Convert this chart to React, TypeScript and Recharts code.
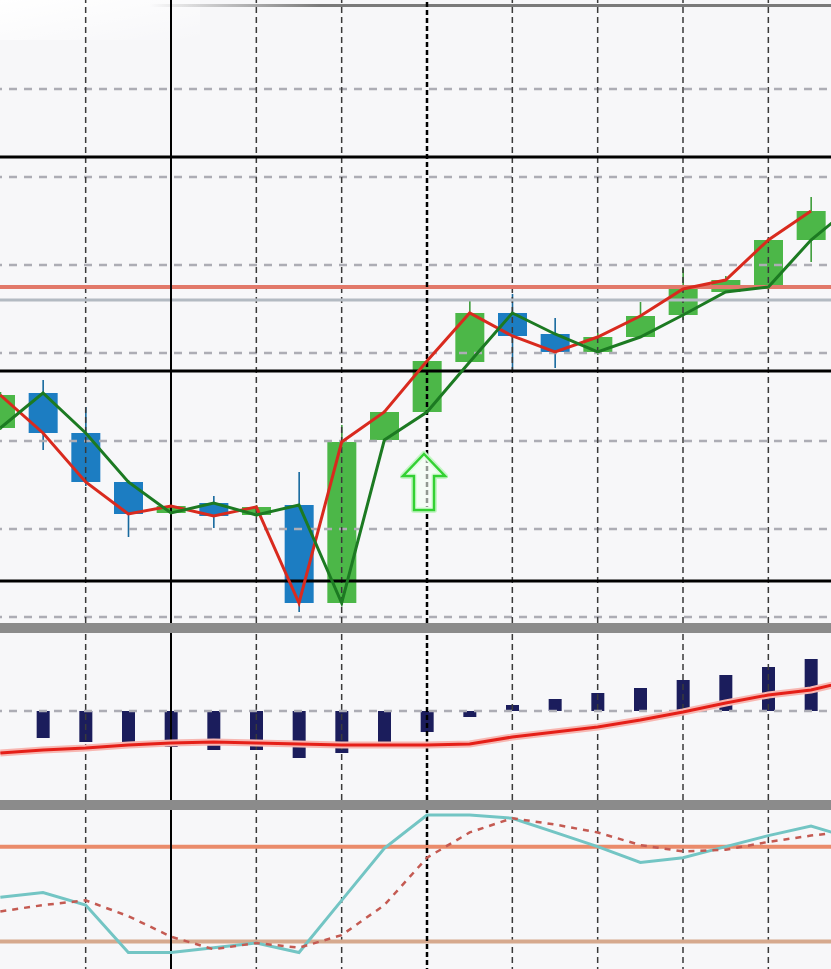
import React from 'react';
import { ComposedChart, Bar, Line, XAxis, YAxis, ReferenceLine, ReferenceDot } from 'recharts';

// ---------- data (price in points) ----------
const candleIndex = [0, 1, 2, 3, 4, 5, 6, 7, 8, 9, 10, 11, 12, 13, 14, 15, 16, 17, 18, 19, 20];
const opens = [277, 312, 272, 223, 192, 202, 190, 200, 102, 265, 293, 343, 392, 371, 353, 368, 390, 413, 418, 465];
const highs = [313, 325, 298, 225, 202, 209, 200, 233, 280, 295, 345, 405, 411, 387, 372, 403, 437, 429, 467, 508];
const lows = [275, 255, 219, 168, 189, 177, 188, 93, 100, 264, 292, 343, 333, 337, 350, 367, 385, 412, 417, 443];
const closes = [310, 272, 223, 191, 199, 189, 198, 102, 263, 293, 344, 392, 369, 353, 368, 389, 416, 425, 465, 494];
const redMA = [310, 272, 223, 191, 199, 189, 198, 102, 263, 293, 344, 392, 369, 353, 368, 389, 416, 425, 465, 494, null];
const greenMA = [277, 312, 272, 223, 192, 202, 190, 200, 102, 265, 293, 343, 392, 371, 353, 368, 390, 413, 418, 465, 500];

const macdHist = [null, -27, -31, -34, -36, -39, -39, -47, -42, -34, -21, -6, 6, 12, 18, 23, 31, 36, 44, 52, null];
const macdSignal = [-42, -39, -37, -34, -32, -31, -32, -33, -34, -34, -34, -33, -26, -21, -16, -9, -1, 8, 16, 21, 31];

const stochMain = [48, 51, 43, 13, 13, 16, 19, 13, 46, 79, 100, 100, 98, 89, 80, 70, 73, 80, 87, 93, 85];
const stochSignal = [39, 43, 46, 36, 23, 15, 19, 16, 24, 43, 73, 89, 98, 94, 89, 81, 77, 78, 83, 87, 90];

const priceGrid = [88, 176, 264, 352, 440, 528, 616];
const blackLevels = [548, 334, 124];
const redLevel = 418;
const grayLevel = 405;
const timeGrid = [2, 6, 8, 12, 14, 16, 18];
const solidVLine = 4;
const signalVLine = 10;
const arrowSignal = { index: 10, value: 223 };
const stochLevels = [80, 20];

// ---------- built tables ----------
const mainData = candleIndex.map((i) => ({
  i,
  open: i < opens.length ? opens[i] : null,
  high: i < highs.length ? highs[i] : null,
  low: i < lows.length ? lows[i] : null,
  close: i < closes.length ? closes[i] : null,
  red: redMA[i],
  green: greenMA[i],
}));
const macdData = candleIndex.map((i) => ({ i, hist: macdHist[i], signal: macdSignal[i] }));
const stochData = candleIndex.map((i) => ({ i, main: stochMain[i], signal: stochSignal[i] }));

// ---------- layout ----------
const SLOT = 256 / 6;
const CHART_W = SLOT * candleIndex.length;
const LEFT = -SLOT / 2;
const BG = '#f7f7f9';
const BLUE = '#1c7dc2';
const GREEN = '#4cb748';

const Candle = (props: any) => {
  const { x, y, width, height, payload } = props;
  if (!payload || payload.open == null) return null;
  const { open, close, high, low } = payload;
  const top = Math.min(y, y + height);
  const h = Math.abs(height);
  const k = h / (high - low);
  const yOf = (v: number) => top + (high - v) * k;
  const up = close >= open;
  const bTop = yOf(Math.max(open, close));
  const bBot = yOf(Math.min(open, close));
  const cx = x + width / 2;
  return (
    <g>
      <line x1={cx} x2={cx} y1={top} y2={top + h} stroke={up ? '#3f9e3c' : '#17699e'} strokeWidth={1.6} />
      <rect x={x} y={bTop} width={width} height={Math.max(bBot - bTop, 2)} fill={up ? GREEN : BLUE} />
    </g>
  );
};

const Arrow = (props: any) => {
  const { cx, cy } = props;
  const x0 = cx - 3;
  const d = `M ${x0} ${cy - 28} L ${x0 + 21} ${cy - 6} L ${x0 + 10} ${cy - 6} L ${x0 + 10} ${cy + 28} L ${x0 - 10} ${cy + 28} L ${x0 - 10} ${cy - 6} L ${x0 - 21} ${cy - 6} Z`;
  return (
    <g>
      <path d={d} fill="none" stroke="#c6f5c6" strokeWidth={6} strokeLinejoin="round" />
      <path d={d} fill="#f4fff4" fillOpacity={0.6} stroke="#33d133" strokeWidth={2.5} strokeLinejoin="miter" />
    </g>
  );
};

const vLines = () =>
  timeGrid.map((t) => (
    <ReferenceLine key={'v' + t} x={t} stroke="#3a3a3a" strokeWidth={1.5} strokeDasharray="6 4" />
  ));

const topLines = () => [
  <ReferenceLine key="sig" x={signalVLine} stroke="#000" strokeWidth={2.5} strokeDasharray="5 3" />,
  <ReferenceLine key="solid" x={solidVLine} stroke="#000" strokeWidth={2} />,
];

export default function App() {
  return (
    <div style={{ position: 'relative', width: 831, height: 969, overflow: 'hidden', background: BG }}>
      <style>{`html,body{margin:0;padding:0;overflow:hidden;}`}</style>
      {/* top window edge */}
      <div style={{ position: 'absolute', top: 0, left: 0, width: 200, height: 40, background: 'linear-gradient(to bottom right, #ffffff, rgba(255,255,255,0))' }} />
      <div style={{ position: 'absolute', top: 4, left: 150, width: 681, height: 3, background: 'linear-gradient(to right, rgba(130,130,130,0), #7a7a7a 25%, #7a7a7a)' }} />

      {/* main price panel */}
      <div style={{ position: 'absolute', top: 0, left: LEFT }}>
        <ComposedChart width={CHART_W} height={623} data={mainData} margin={{ top: 0, right: 0, bottom: 0, left: 0 }}>
          <XAxis dataKey="i" type="category" scale="band" hide />
          <YAxis type="number" domain={[82, 705]} allowDataOverflow hide />
          {priceGrid.map((p) => (
            <ReferenceLine key={'h' + p} y={p} stroke="#adadb5" strokeWidth={2.5} strokeDasharray="8 7" />
          ))}
          {vLines()}
          <ReferenceLine y={redLevel} stroke="#e2796a" strokeWidth={4} />
          <ReferenceLine y={grayLevel} stroke="#b3bac2" strokeWidth={3} />
          {blackLevels.map((p) => (
            <ReferenceLine key={'b' + p} y={p} stroke="#000" strokeWidth={3} />
          ))}
          {topLines()}
          <Bar dataKey={(d: any) => (d.open == null ? null : [d.low, d.high])} barSize={29} shape={<Candle />} isAnimationActive={false} />
          <Line dataKey="red" stroke="#d92a1e" strokeWidth={3} dot={false} activeDot={false} isAnimationActive={false} connectNulls={false} />
          <Line dataKey="green" stroke="#1c7a22" strokeWidth={3} dot={false} activeDot={false} isAnimationActive={false} />
          <ReferenceDot x={arrowSignal.index} y={arrowSignal.value} shape={<Arrow />} />
        </ComposedChart>
      </div>

      <div style={{ position: 'absolute', top: 623, left: 0, width: 831, height: 10, background: '#8b8b8b' }} />

      {/* MACD panel */}
      <div style={{ position: 'absolute', top: 633, left: LEFT }}>
        <ComposedChart width={CHART_W} height={167} data={macdData} margin={{ top: 0, right: 0, bottom: 0, left: 0 }}>
          <XAxis dataKey="i" type="category" scale="band" hide />
          <YAxis type="number" domain={[-89, 78]} allowDataOverflow hide />
          {vLines()}
          <ReferenceLine y={0} stroke="#adadb5" strokeWidth={2.5} strokeDasharray="8 7" />
          {topLines()}
          <Bar dataKey="hist" barSize={13} fill="#1b1d5c" isAnimationActive={false} />
          <Line dataKey="signal" stroke="#f7b7b2" strokeWidth={7} dot={false} activeDot={false} isAnimationActive={false} />
          <Line dataKey="signal" stroke="#e51f18" strokeWidth={3} dot={false} activeDot={false} isAnimationActive={false} />
        </ComposedChart>
      </div>

      <div style={{ position: 'absolute', top: 800, left: 0, width: 831, height: 10, background: '#8b8b8b' }} />

      {/* Stochastic panel */}
      <div style={{ position: 'absolute', top: 810, left: LEFT }}>
        <ComposedChart width={CHART_W} height={163} data={stochData} margin={{ top: 0, right: 0, bottom: 0, left: 0 }}>
          <XAxis dataKey="i" type="category" scale="band" hide />
          <YAxis type="number" domain={[0, 103.2]} allowDataOverflow hide />
          {vLines()}
          <ReferenceLine y={stochLevels[0]} stroke="#ea8b6b" strokeWidth={4} />
          <ReferenceLine y={stochLevels[1]} stroke="#d6a98e" strokeWidth={4} />
          {topLines()}
          <Line dataKey="main" stroke="#73c5c4" strokeWidth={3} dot={false} activeDot={false} isAnimationActive={false} />
          <Line dataKey="signal" stroke="#c45a52" strokeWidth={2.5} strokeDasharray="6 6" dot={false} activeDot={false} isAnimationActive={false} />
        </ComposedChart>
      </div>
    </div>
  );
}
